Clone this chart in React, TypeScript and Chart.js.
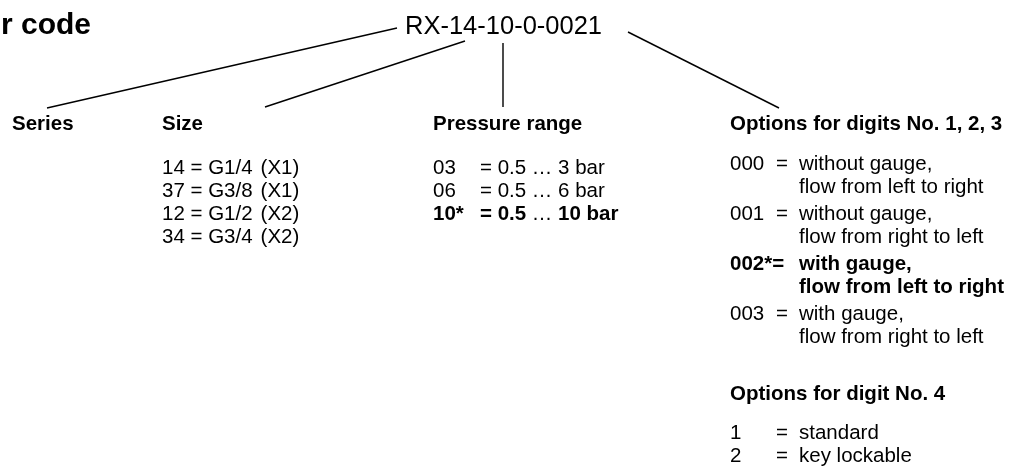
import React, { useEffect, useRef } from "react";
import { Chart, registerables } from "chart.js";

Chart.register(...registerables);

// ---------------- data ----------------
const TITLE = "Order code";
const CODE_PARTS = ["RX", "14", "10", "0", "0021"];
const HEADINGS = ["Series", "Size", "Pressure range", "Options for digits No. 1, 2, 3"];
const HEADING_DIGIT4 = "Options for digit No. 4";

const SIZE_CODES = ["14", "37", "12", "34"];
const SIZE_THREADS = ["G1/4", "G3/8", "G1/2", "G3/4"];
const SIZE_TYPES = ["X1", "X1", "X2", "X2"];

const PRESSURE_CODES = ["03", "06", "10*"];
const PRESSURE_MIN = ["0.5", "0.5", "0.5"];
const PRESSURE_MAX = ["3", "6", "10"];
const PRESSURE_DEFAULT = 2;

const OPTION_CODES = ["000", "001", "002*", "003"];
const OPTION_GAUGE = ["without gauge,", "without gauge,", "with gauge,", "with gauge,"];
const OPTION_FLOW = [
  "flow from left to right",
  "flow from right to left",
  "flow from left to right",
  "flow from right to left",
];
const OPTION_DEFAULT = 2;

const DIGIT4_CODES = ["1", "2"];
const DIGIT4_LABELS = ["standard", "key lockable"];

// ---------------- layout ----------------
const W = 1018;
const H = 470;
const FONT = '"Liberation Sans", Arial, Helvetica, sans-serif';
const BODY = 20.5;
const HEAD = 20.5;

// connector lines (code -> column heading), in diagram units
const CONN_FROM_X = [397, 465, 503, 628];
const CONN_FROM_Y = [28, 41, 43, 32];
const CONN_TO_X = [47, 265, 503, 779];
const CONN_TO_Y = [108, 107, 107, 108];

const COL_X = [12, 162, 433, 730];
const HEAD_Y = 130;
const LIST_Y0 = 174;
const ROW = 23;
const PRESS_EQ_X = 480;
const OPT_EQ_X = 776;
const OPT_TEXT_X = 799;
const OPT_Y = [170, 220, 270, 320];
const WRAP = 23;
const D4_HEAD_Y = 400;
const D4_Y = [439, 462];

type Run = [string, boolean];

function drawRuns(ctx: CanvasRenderingContext2D, x: number, y: number, runs: Run[], size: number) {
  let cx = x;
  for (const [t, b] of runs) {
    ctx.font = `${b ? "bold " : ""}${size}px ${FONT}`;
    ctx.fillText(t, cx, y);
    cx += ctx.measureText(t).width;
  }
}

const textPlugin = {
  id: "diagramText",
  afterDatasetsDraw(chart: any) {
    const ctx: CanvasRenderingContext2D = chart.ctx;
    const sx = (v: number) => chart.scales.x.getPixelForValue(v);
    const sy = (v: number) => chart.scales.y.getPixelForValue(v);
    ctx.save();
    ctx.fillStyle = "#000";
    ctx.textBaseline = "alphabetic";

    // title (cut off at the left edge)
    ctx.textAlign = "right";
    ctx.font = `bold 30px ${FONT}`;
    ctx.fillText(TITLE, sx(91), sy(34));

    ctx.textAlign = "left";
    ctx.font = `25.5px ${FONT}`;
    ctx.fillText(CODE_PARTS.join("-"), sx(405), sy(34));

    // headings
    ctx.font = `bold ${HEAD}px ${FONT}`;
    HEADINGS.forEach((h, i) => ctx.fillText(h, sx(COL_X[i]), sy(HEAD_Y)));

    // size column
    ctx.font = `${BODY}px ${FONT}`;
    SIZE_CODES.forEach((c, i) => {
      const y = sy(LIST_Y0 + i * ROW);
      const left = `${c} = ${SIZE_THREADS[i]}`;
      ctx.fillText(left, sx(COL_X[1]), y);
      ctx.fillText(`(${SIZE_TYPES[i]})`, sx(COL_X[1]) + ctx.measureText(left).width + 8, y);
    });

    // pressure column
    PRESSURE_CODES.forEach((c, i) => {
      const b = i === PRESSURE_DEFAULT;
      const y = sy(LIST_Y0 + i * ROW);
      drawRuns(ctx, sx(COL_X[2]), y, [[c, b]], BODY);
      drawRuns(
        ctx,
        sx(PRESS_EQ_X),
        y,
        [
          [`= ${PRESSURE_MIN[i]} `, b],
          ["\u2026 ", false],
          [`${PRESSURE_MAX[i]} bar`, b],
        ],
        BODY
      );
    });

    // options digits 1,2,3
    OPTION_CODES.forEach((c, i) => {
      const b = i === OPTION_DEFAULT;
      const y = sy(OPT_Y[i]);
      ctx.font = `${b ? "bold " : ""}${BODY}px ${FONT}`;
      ctx.fillText(c, sx(COL_X[3]), y);
      const eqX = b ? Math.min(sx(OPT_EQ_X), sx(COL_X[3]) + ctx.measureText(c).width) : sx(OPT_EQ_X);
      ctx.fillText("=", eqX, y);
      ctx.fillText(OPTION_GAUGE[i], sx(OPT_TEXT_X), y);
      ctx.fillText(OPTION_FLOW[i], sx(OPT_TEXT_X), sy(OPT_Y[i] + WRAP));
    });

    // digit 4
    ctx.font = `bold ${HEAD}px ${FONT}`;
    ctx.fillText(HEADING_DIGIT4, sx(COL_X[3]), sy(D4_HEAD_Y));
    ctx.font = `${BODY}px ${FONT}`;
    DIGIT4_CODES.forEach((c, i) => {
      const y = sy(D4_Y[i]);
      ctx.fillText(c, sx(COL_X[3]), y);
      ctx.fillText("=", sx(OPT_EQ_X), y);
      ctx.fillText(DIGIT4_LABELS[i], sx(OPT_TEXT_X), y);
    });

    ctx.restore();
  },
};

export default function App() {
  const ref = useRef<HTMLCanvasElement | null>(null);
  useEffect(() => {
    if (!ref.current) return;
    const datasets = CONN_FROM_X.map((x0, i) => ({
      data: [
        { x: x0, y: CONN_FROM_Y[i] },
        { x: CONN_TO_X[i], y: CONN_TO_Y[i] },
      ],
      showLine: true,
      borderColor: "#000",
      borderWidth: 1.4,
      pointRadius: 0,
      pointHoverRadius: 0,
    }));
    const chart = new Chart(ref.current, {
      type: "scatter",
      data: { datasets },
      options: {
        animation: false,
        responsive: false,
        maintainAspectRatio: false,
        layout: { padding: 0 },
        events: [],
        plugins: { legend: { display: false }, tooltip: { enabled: false } },
        scales: {
          x: { type: "linear", min: 0, max: W, display: false },
          y: { type: "linear", min: 0, max: H, reverse: true, display: false },
        },
      },
      plugins: [textPlugin],
    });
    return () => chart.destroy();
  }, []);
  return (
    <div style={{ position: "fixed", left: 0, top: 0, width: W, height: H, background: "#fff" }}>
      <canvas ref={ref} width={W} height={H} style={{ display: "block" }} />
    </div>
  );
}
